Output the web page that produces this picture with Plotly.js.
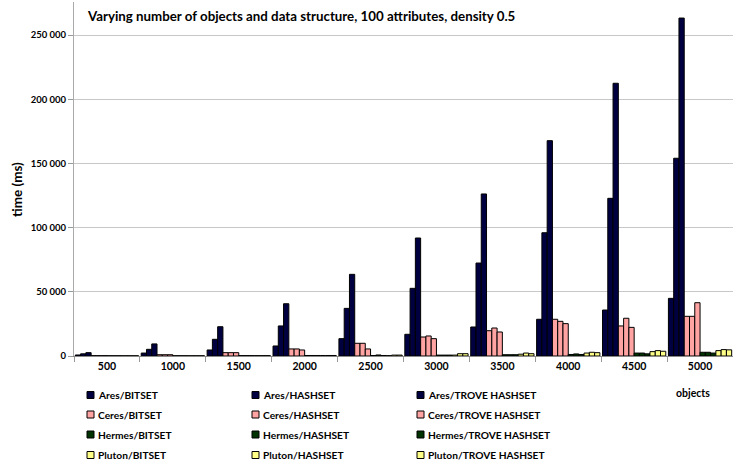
<!DOCTYPE html>
<html>
<head>
<meta charset="utf-8">
<script src="https://cdn.plot.ly/plotly-3.0.1.min.js"></script>
<style>html,body{margin:0;padding:0;background:#fff;}#chart{width:733px;height:466px;}</style>
</head>
<body>
<div id="chart"></div>
<script>
const categories = ['500','1000','1500','2000','2500','3000','3500','4000','4500','5000'];

const aresBitset    = [800, 2300, 4700, 7800, 13500, 16900, 22600, 28600, 35800, 44900];
const aresHashset   = [1700, 5200, 13000, 23400, 37100, 52700, 72400, 96000, 122800, 154000];
const aresTrove     = [2600, 9400, 22800, 40700, 63600, 91900, 126200, 167700, 212400, 263200];
const ceresBitset   = [300, 1000, 2600, 5500, 9900, 14800, 19700, 28600, 23400, 30900];
const ceresHashset  = [300, 1000, 2600, 5500, 9900, 15600, 21800, 27000, 29400, 30900];
const ceresTrove    = [300, 1000, 2600, 4700, 5500, 13500, 18700, 25200, 22300, 41500];
const hermesBitset  = [200, 200, 300, 400, 400, 700, 1000, 1200, 2300, 2900];
const hermesHashset = [200, 200, 300, 400, 800, 700, 1000, 1600, 2300, 2900];
const hermesTrove   = [200, 200, 300, 400, 400, 700, 1000, 1200, 1700, 2300];
const plutonBitset  = [200, 200, 300, 400, 300, 700, 1400, 2300, 3400, 4200];
const plutonHashset = [200, 200, 300, 400, 700, 1800, 2300, 2900, 4200, 5000];
const plutonTrove   = [200, 200, 300, 400, 700, 1800, 1800, 2600, 3700, 4800];

const seriesNames = ['Ares/BITSET','Ares/HASHSET','Ares/TROVE HASHSET',
  'Ceres/BITSET','Ceres/HASHSET','Ceres/TROVE HASHSET',
  'Hermes/BITSET','Hermes/HASHSET','Hermes/TROVE HASHSET',
  'Pluton/BITSET','Pluton/HASHSET','Pluton/TROVE HASHSET'];
const seriesValues = [aresBitset, aresHashset, aresTrove, ceresBitset, ceresHashset, ceresTrove,
  hermesBitset, hermesHashset, hermesTrove, plutonBitset, plutonHashset, plutonTrove];
const seriesColors = ['#000040','#000040','#000040','#FFA3A3','#FFA3A3','#FFA3A3',
  '#003300','#003300','#003300','#FFFF88','#FFFF88','#FFFF88'];

const fontFam = 'Lato, "Open Sans", sans-serif';
const W = 733, H = 466, ML = 74, MR = 0, MT = 2, MB = 110;
const PW = W - ML - MR, PH = H - MT - MB;
const px2x = p => (p - ML) / PW;
const px2y = p => (H - MB - p) / PH;

const traces = seriesNames.map((n, i) => ({
  type: 'bar', name: n, x: categories, y: seriesValues[i],
  marker: {color: seriesColors[i], line: {color: '#000', width: 1}},
  hoverinfo: 'name+y', showlegend: false
}));

// custom legend (3 columns x 4 rows)
const colSq = [87, 252, 417];
const rowY = [395, 414.5, 434.5, 455];
const shapes = [];
const annotations = [
  {xref: 'paper', yref: 'paper', x: px2x(85), y: px2y(16), xanchor: 'left', yanchor: 'middle',
   text: 'Varying number of objects and data structure, 100 attributes, density 0.5',
   showarrow: false, font: {family: fontFam, size: 13.3, weight: 'bold'}},
  {xref: 'paper', yref: 'paper', x: px2x(693), y: px2y(393), xanchor: 'center', yanchor: 'middle',
   text: 'objects', showarrow: false, font: {family: fontFam, size: 10.5, weight: 'bold'}},
  {xref: 'paper', yref: 'paper', x: px2x(17), y: px2y(190), xanchor: 'center', yanchor: 'middle',
   text: 'time (ms)', textangle: -90, showarrow: false, font: {family: fontFam, size: 13.5, weight: 'bold'}}
];
seriesNames.forEach((n, i) => {
  const c = i % 3, r = Math.floor(i / 3);
  const x0 = colSq[c], y0 = rowY[r];
  shapes.push({type: 'rect', xref: 'paper', yref: 'paper',
    x0: px2x(x0), x1: px2x(x0 + 7), y0: px2y(y0 - 3.5), y1: px2y(y0 + 3.5),
    fillcolor: seriesColors[i], line: {color: '#000', width: 1}});
  annotations.push({xref: 'paper', yref: 'paper', x: px2x(x0 + 8.5), y: px2y(y0), xanchor: 'left', yanchor: 'middle',
    text: n, showarrow: false, font: {family: fontFam, size: 10.2, weight: 'bold'}});
});

const layout = {
  width: W, height: H,
  margin: {l: ML, r: MR, t: MT, b: MB},
  paper_bgcolor: '#fff', plot_bgcolor: '#fff',
  separators: ', ',
  barmode: 'group', bargap: 0.04, bargroupgap: 0,
  font: {family: fontFam, size: 11, color: '#000'},
  showlegend: false,
  xaxis: {type: 'category', tickson: 'boundaries', ticks: 'outside', ticklen: 5,
    tickcolor: '#999', showline: true, linecolor: '#888', linewidth: 1,
    showgrid: false, tickfont: {family: fontFam, size: 10.5, weight: 'bold'}},
  yaxis: {range: [0, 275700], dtick: 50000, tickformat: ',d', ticks: 'outside', ticklen: 5,
    tickcolor: '#999', showline: true, linecolor: '#aaa', linewidth: 1,
    gridcolor: '#c8c8c8', gridwidth: 1, zeroline: false,
    tickfont: {family: fontFam, size: 9.5, weight: 'bold'}},
  shapes: shapes,
  annotations: annotations
};

Plotly.newPlot('chart', traces, layout, {displayModeBar: false, staticPlot: true});
</script>
</body>
</html>
